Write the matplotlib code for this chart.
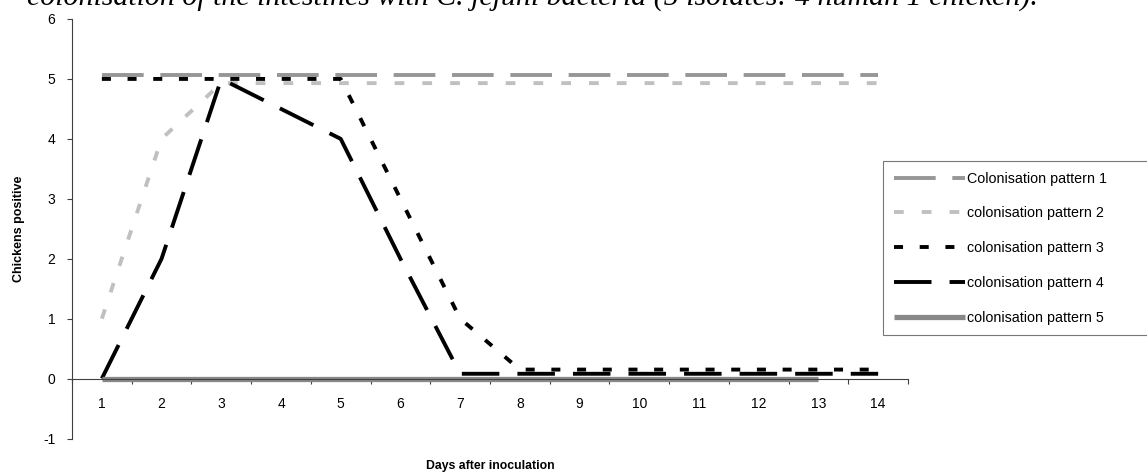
import numpy as np
import matplotlib
matplotlib.use('Agg')
import matplotlib.pyplot as plt

# chart values (small offsets keep overlapping lines apart)
days = [1, 2, 3, 4, 5, 6, 7, 8, 9, 10, 11, 12, 13, 14]
day_labels = ['1', '2', '3', '4', '5', '6', '7', '8', '9', '10', '11', '12', '13', '14']
pattern1 = [5.07, 5.07, 5.07, 5.07, 5.07, 5.07, 5.07, 5.07, 5.07, 5.07, 5.07, 5.07, 5.07, 5.07]
pattern2 = [1, 4, 4.93, 4.93, 4.93, 4.93, 4.93, 4.93, 4.93, 4.93, 4.93, 4.93, 4.93, 4.93]
pattern3 = [5, 5, 5, 5, 5, 3, 1, 0.15, 0.15, 0.15, 0.15, 0.15, 0.15, 0.15]
pattern4 = [0, 2, 5, 4.5, 4, 2, 0.08, 0.08, 0.08, 0.08, 0.08, 0.08, 0.08, 0.08]
days5 = [1, 2, 3, 4, 5, 6, 7, 8, 9, 10, 11, 12, 13]
pattern5 = [0, 0, 0, 0, 0, 0, 0, 0, 0, 0, 0, 0, 0]
labels = ['Colonisation pattern 1', 'colonisation pattern 2', 'colonisation pattern 3',
          'colonisation pattern 4', 'colonisation pattern 5']
yticks = [-1, 0, 1, 2, 3, 4, 5, 6]

plt.rcParams['font.family'] = ['Liberation Sans', 'DejaVu Sans']
plt.rcParams['lines.scale_dashes'] = False

fig = plt.figure(figsize=(11.47, 4.74), dpi=100)
ax = fig.add_axes([72 / 1147, 35.5 / 474, 836 / 1147, 419.5 / 474])

lw = 2.8
l1, = ax.plot(days, pattern1, color='#969696', lw=lw, dashes=(30, 12), dash_capstyle='butt')
l2, = ax.plot(days, pattern2, color='#c0c0c0', lw=lw, dashes=(7, 13), dash_capstyle='butt')
l3, = ax.plot(days, pattern3, color='black', lw=lw, dashes=(6.5, 12), dash_capstyle='butt')
l4, = ax.plot(days, pattern4, color='black', lw=lw, dashes=(27, 13), dash_capstyle='butt')
l5, = ax.plot(days5, pattern5, color='#888888', lw=3.8, solid_capstyle='butt')

ax.set_xlim(0.5, 14.5)
ax.set_ylim(-1, 6)

axis_col = '#404040'
for s in ['top', 'right']:
    ax.spines[s].set_visible(False)
ax.spines['bottom'].set_position(('data', 0))
ax.spines['bottom'].set_color(axis_col)
ax.spines['left'].set_color(axis_col)
ax.spines['bottom'].set_linewidth(0.8)
ax.spines['left'].set_linewidth(0.8)

# category boundaries get the tick marks, centres get the labels
ax.set_xticks(np.arange(0.5, 15, 1.0))
ax.set_xticklabels([])
ax.set_xticks(days, minor=True)
ax.set_xticklabels(day_labels, minor=True)
ax.tick_params(axis='x', which='major', direction='out', length=3.6, width=0.8, color=axis_col)
ax.tick_params(axis='x', which='minor', length=0, pad=13, labelsize=10)

ax.set_yticks(yticks)
ax.set_yticklabels([str(v) for v in yticks])
ax.tick_params(axis='y', direction='out', length=3.6, width=0.8, color=axis_col, pad=8.5, labelsize=10)

fig.text(19 / 1147, 1 - 229 / 474, 'Chickens positive', rotation=90, fontsize=9,
         fontweight='bold', ha='center', va='center')
fig.text(490 / 1147, 1 - 466 / 474, 'Days after inoculation', fontsize=8.8,
         fontweight='bold', ha='center', va='center')

# caption line from the page above, cut off by the crop
fig.text(1038 / 1147, 1 - 5.5 / 474,
         'colonisation of the intestines with C. jejuni bacteria (5 isolates: 4 human 1 chicken).',
         family=['Liberation Serif', 'DejaVu Serif'], style='italic', fontsize=21.5,
         ha='right', va='baseline')

leg = fig.legend([l1, l2, l3, l4, l5], labels, loc='upper left',
                 bbox_to_anchor=(883 / 1147, 1 - 335 / 474, 300 / 1147, 174 / 474),
                 mode='expand', fontsize=10.3, handlelength=5.0, handletextpad=0.1,
                 labelspacing=1.45, borderpad=0.75, borderaxespad=0, frameon=True,
                 fancybox=False)
leg.get_frame().set_edgecolor('#555555')
leg.get_frame().set_linewidth(0.8)

fig.savefig('out.png', dpi=100)
